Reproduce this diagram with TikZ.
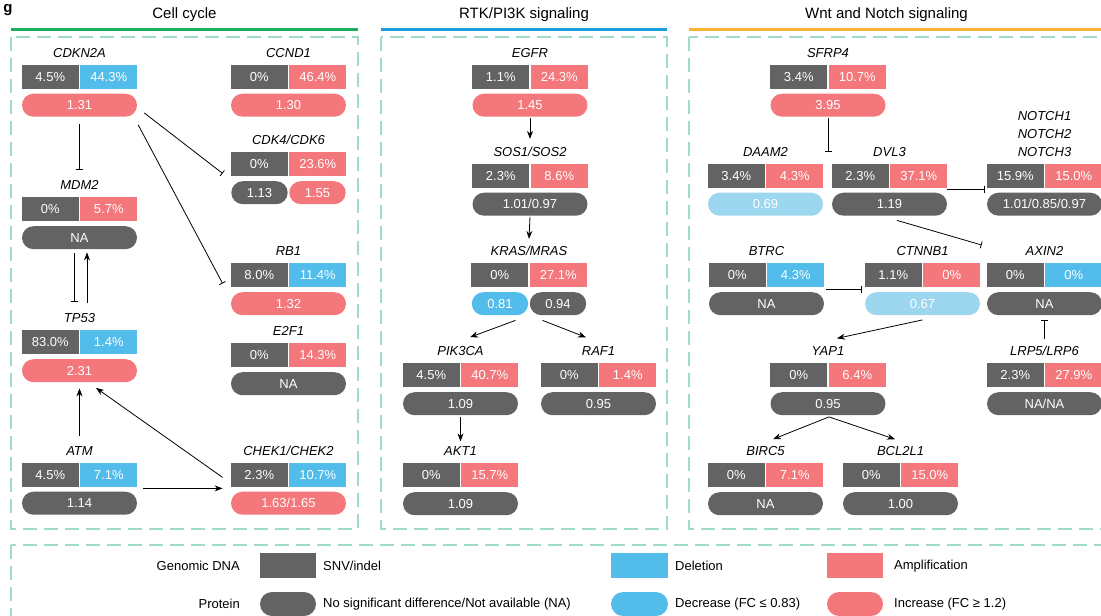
\documentclass[tikz,border=0pt]{standalone}
\usepackage{fontspec}
\setmainfont{Liberation Sans}
\usetikzlibrary{arrows.meta}

\definecolor{snvgrey}{HTML}{636363}
\definecolor{delblue}{HTML}{52BDEA}
\definecolor{ampred}{HTML}{F4777B}
\definecolor{lowblue}{HTML}{9DD7EF}
\definecolor{frameteal}{HTML}{A0DCCB}
\definecolor{cyclegreen}{HTML}{1DAF5F}
\definecolor{rtkblue}{HTML}{1B9CDE}
\definecolor{wntorange}{HTML}{F9B233}

\tikzset{
  genename/.style={font=\fontsize{13}{15}\selectfont\itshape, inner sep=0pt, anchor=base},
  dnabox/.style={rectangle, minimum width=56.9pt, minimum height=24pt, inner sep=0pt, text=white, font=\fontsize{13}{15}\selectfont},
  protpill/.style={rectangle, rounded corners=11.5pt, minimum width=115pt, minimum height=23pt, inner sep=0pt, text=white, font=\fontsize{13}{15}\selectfont},
  halfpill/.style={protpill, minimum width=56.4pt},
  act/.style={-{Stealth[length=8pt,width=6pt]}, line width=0.8pt},
  inh/.style={-{Bar[width=7pt]}, line width=0.8pt},
  frame/.style={draw=frameteal, line width=1.5pt, dash pattern=on 14pt off 7pt},
  panelline/.style={line width=3pt},
  paneltitle/.style={font=\fontsize{15}{17}\selectfont, inner sep=0pt},
  legendtext/.style={font=\fontsize{13}{15}\selectfont, inner sep=0pt},
}

% gene name and its two DNA boxes
\newcommand{\genedna}[7]{%
  \node[genename] (#1) at (#2,#3-7.5) {#4};
  \node[dnabox, fill=snvgrey, anchor=north east] (#1-snv) at (#2-0.6,#3) {#5};
  \node[dnabox, fill=#6, anchor=north west] (#1-cnv) at (#2+0.6,#3) {#7};
}
% gene with one protein pill
\newcommand{\gene}[9]{%
  \genedna{#1}{#2}{#3}{#4}{#5}{#6}{#7}
  \node[protpill, fill=#8, anchor=north] (#1-prot) at (#2,#3+29) {#9};
}

\begin{document}
\begin{tikzpicture}[x=1pt, y=-1pt]
    \path[use as bounding box, clip] (0,0) rectangle (1101,616);

    % panel letter
    \node[font=\fontsize{15}{17}\selectfont\bfseries, inner sep=0pt, anchor=base] (panel-g) at (8,12) {g};

    % Panel titles
    \node[paneltitle] (cycle-title) at (184.5,15) {Cell cycle};
    \draw[panelline, cyclegreen] (11,29) -- (358,29);
    \node[paneltitle] (rtk-title) at (524,15) {RTK/PI3K signaling};
    \draw[panelline, rtkblue] (381,29) -- (667,29);
    \node[paneltitle] (wnt-title) at (886.5,15) {Wnt and Notch signaling};
    \draw[panelline, wntorange] (689,29) -- (1110,29);

    % Dashed frames
    \draw[frame] (11,37) rectangle (358,529);
    \draw[frame] (381,37) rectangle (667,529);
    \draw[frame] (689,37) rectangle (1115,529);
    \draw[frame] (11,545) rectangle (1115,630);

    % Cell cycle
    \gene{cdkn2a}{79.5}{64.5}{CDKN2A}{4.5\%}{delblue}{44.3\%}{ampred}{1.31}
    \gene{ccnd1}{288.5}{64.5}{CCND1}{0\%}{ampred}{46.4\%}{ampred}{1.30}
    \genedna{cdk4}{288.5}{152}{CDK4/CDK6}{0\%}{ampred}{23.6\%}
    \node[halfpill, fill=snvgrey, anchor=north east] (cdk4-prot1) at (287.9,181) {1.13};
    \node[halfpill, fill=ampred, anchor=north west] (cdk4-prot2) at (289.1,181) {1.55};
    \gene{mdm2}{79.5}{197}{MDM2}{0\%}{ampred}{5.7\%}{snvgrey}{NA}
    \gene{rb1}{288.5}{263}{RB1}{8.0\%}{delblue}{11.4\%}{ampred}{1.32}
    \gene{tp53}{79.5}{330}{TP53}{83.0\%}{delblue}{1.4\%}{ampred}{2.31}
    \gene{e2f1}{288.5}{343}{E2F1}{0\%}{ampred}{14.3\%}{snvgrey}{NA}
    \gene{atm}{79.5}{462.5}{ATM}{4.5\%}{delblue}{7.1\%}{snvgrey}{1.14}
    \gene{chek}{288.5}{462.5}{CHEK1/CHEK2}{2.3\%}{delblue}{10.7\%}{ampred}{1.63/1.65}

    \draw[inh] ([shift={(0,7)}]cdkn2a-prot.south) -- ([shift={(0,-10)}]mdm2.north);
    \draw[inh] ([shift={(7,-4)}]cdkn2a-prot.south east) -- ([shift={(-8,-3)}]cdk4-snv.south west);
    \draw[inh] ([shift={(1,8)}]cdkn2a-prot.south east) -- ([shift={(-8,-4)}]rb1-snv.south west);
    \draw[inh] ([shift={(-5.5,4)}]mdm2-prot.south) -- ([shift={(-5.5,-11)}]tp53.north);
    \draw[act] ([shift={(7.5,-10)}]tp53.north) -- ([shift={(7.5,3)}]mdm2-prot.south);
    \draw[act] ([shift={(0,-10)}]atm.north) -- ([shift={(0,6)}]tp53-prot.south);
    \draw[act] ([shift={(-8,-9.5)}]chek-snv.south west) -- ([shift={(16.5,5.5)}]tp53-prot.south);
    \draw[act] ([shift={(6,1.5)}]atm-cnv.south east) -- ([shift={(-8,1.5)}]chek-snv.south west);

    % RTK/PI3K signaling
    \gene{egfr}{530}{64.5}{EGFR}{1.1\%}{ampred}{24.3\%}{ampred}{1.45}
    \gene{sos}{530}{163.5}{SOS1/SOS2}{2.3\%}{ampred}{8.6\%}{snvgrey}{1.01/0.97}
    \genedna{kras}{529}{263}{KRAS/MRAS}{0\%}{ampred}{27.1\%}
    \node[halfpill, fill=delblue, anchor=north east] (kras-prot1) at (528.4,292) {0.81};
    \node[halfpill, fill=snvgrey, anchor=north west] (kras-prot2) at (529.6,292) {0.94};
    \gene{pik3ca}{460.5}{363}{PIK3CA}{4.5\%}{ampred}{40.7\%}{snvgrey}{1.09}
    \gene{raf1}{598.5}{363}{RAF1}{0\%}{ampred}{1.4\%}{snvgrey}{0.95}
    \gene{akt1}{460.5}{463}{AKT1}{0\%}{ampred}{15.7\%}{snvgrey}{1.09}

    \draw[act] ([shift={(0,1)}]egfr-prot.south) -- ([shift={(0,-7.5)}]sos.north);
    \draw[act] ([shift={(0,1)}]sos-prot.south) -- ([shift={(0,-7)}]kras.north);
    \draw[act] ([shift={(-13,5)}]kras-prot1.south east) -- ([shift={(9.5,-9)}]pik3ca.north);
    \draw[act] ([shift={(13,5)}]kras-prot2.south west) -- ([shift={(-12.5,-9)}]raf1.north);
    \draw[act] ([shift={(0,2)}]pik3ca-prot.south) -- ([shift={(0,-5)}]akt1.north);

    % Wnt and Notch signaling
    \gene{sfrp4}{828}{64.5}{SFRP4}{3.4\%}{ampred}{10.7\%}{ampred}{3.95}
    \gene{daam2}{765.5}{163.5}{DAAM2}{3.4\%}{ampred}{4.3\%}{lowblue}{0.69}
    \gene{dvl3}{889.5}{163.5}{DVL3}{2.3\%}{ampred}{37.1\%}{snvgrey}{1.19}
    \gene{notch}{1044.5}{163.5}{{\renewcommand{\arraystretch}{1.18}\begin{tabular}[b]{@{}c@{}}NOTCH1\\NOTCH2\\NOTCH3\end{tabular}}}{15.9\%}{ampred}{15.0\%}{snvgrey}{1.01/0.85/0.97}
    \gene{btrc}{766.5}{263}{BTRC}{0\%}{delblue}{4.3\%}{snvgrey}{NA}
    \gene{ctnnb1}{922.5}{263}{CTNNB1}{1.1\%}{ampred}{0\%}{lowblue}{0.67}
    \gene{axin2}{1044.5}{263}{AXIN2}{0\%}{delblue}{0\%}{snvgrey}{NA}
    \gene{yap1}{828}{363}{YAP1}{0\%}{ampred}{6.4\%}{snvgrey}{0.95}
    \gene{lrp}{1044.5}{363}{LRP5/LRP6}{2.3\%}{ampred}{27.9\%}{snvgrey}{NA/NA}
    \gene{birc5}{765.5}{463}{BIRC5}{0\%}{ampred}{7.1\%}{snvgrey}{NA}
    \gene{bcl2l1}{900.5}{463}{BCL2L1}{0\%}{ampred}{15.0\%}{snvgrey}{1.00}

    \coordinate (sfrp4-end) at (828,152);
    \draw[inh] ([shift={(0,1)}]sfrp4-prot.south) -- (sfrp4-end);
    \draw[inh] ([shift={(0,1.5)}]dvl3-cnv.south east) -- ([shift={(-2,1.5)}]notch-snv.south west);
    \draw[inh] ([shift={(7.5,4.5)}]dvl3-prot.south) -- ([shift={(-5,-18)}]axin2-snv.north west);
    \draw[inh] ([shift={(2,2)}]btrc-cnv.south east) -- ([shift={(-3,2)}]ctnnb1-snv.south west);
    \draw[act] ([shift={(0,4.5)}]ctnnb1-prot.south) -- ([shift={(9,-8)}]yap1.north);
    \draw[inh] ([shift={(0,-7)}]lrp.north) -- ([shift={(0,4.5)}]axin2-prot.south);
    \draw[act] ([shift={(1,1.5)}]yap1-prot.south) -- ([shift={(7.5,-7)}]birc5.north);
    \draw[act] ([shift={(1,1.5)}]yap1-prot.south) -- ([shift={(-5.5,-7)}]bcl2l1.north);

    % Legend
    \node[legendtext, anchor=east] (dna-key) at (240,566) {Genomic DNA};
    \node[legendtext, anchor=east] (prot-key) at (240,604) {Protein};
    \fill[snvgrey] (260,553) rectangle (316,578);
    \node[legendtext, anchor=west] (snv-key) at (323,566) {SNV/indel};
    \fill[delblue] (611,553) rectangle (668,578);
    \node[legendtext, anchor=west] (del-key) at (675,566) {Deletion};
    \fill[ampred] (827,553) rectangle (883,578);
    \node[legendtext, anchor=west] (amp-key) at (894,566) {Amplification};
    \fill[snvgrey, rounded corners=12pt] (260,592) rectangle (316,616);
    \node[legendtext, anchor=west] (ns-key) at (323,604) {No significant difference/Not available (NA)};
    \fill[delblue, rounded corners=12pt] (611,592) rectangle (668,616);
    \node[legendtext, anchor=west] (dec-key) at (675,604) {Decrease (FC ≤ 0.83)};
    \fill[ampred, rounded corners=12pt] (827,592) rectangle (883,616);
    \node[legendtext, anchor=west] (inc-key) at (894,604) {Increase (FC ≥ 1.2)};

\end{tikzpicture}
\end{document}
